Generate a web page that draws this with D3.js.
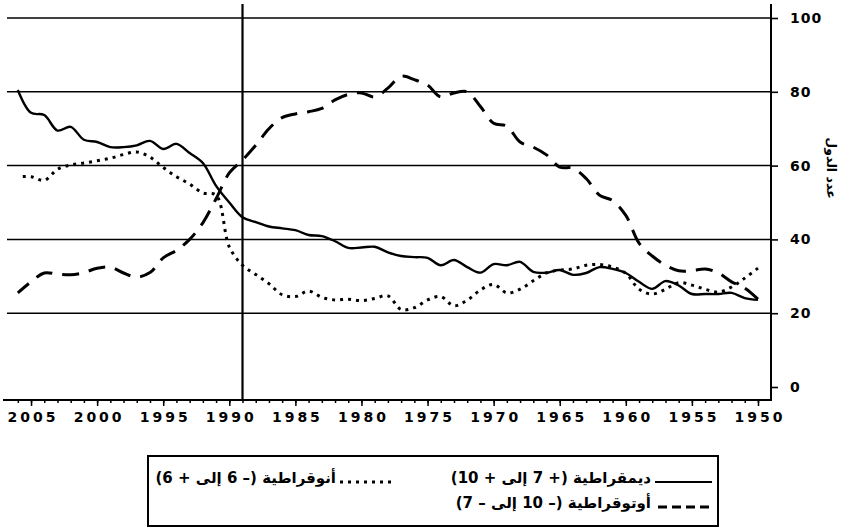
<!DOCTYPE html>
<html lang="ar">

<head>
  <meta charset="UTF-8">
  <meta name="viewport" content="width=device-width, initial-scale=1.0">
  <title>Document</title>
  <script src="https://cdn.jsdelivr.net/npm/d3@7.6.1/dist/d3.min.js"></script>
  <style>
    body { margin: 0; background: #fff; }
    div svg { display: block; }
  </style>
</head>

<body>
  <div id="box"></div>
  <script>
    const width = 850
    const height = 531
    const font = 'DejaVu Sans, sans-serif'

    // years run 1950 .. 2006, values are % of countries
    const years = d3.range(1950, 2007)
    const democracy = [23.6, 24.1, 25.5, 25.2, 25.2, 25.2, 27.5, 28.7, 26.6, 28.5,
      30.9, 32, 32.5, 30.9, 30.4, 31.7, 31, 31.2, 33.9, 33,
      33.3, 31, 32.5, 34.4, 33, 35, 35.2, 35.5, 36.5, 38,
      37.8, 37.7, 39.5, 40.9, 41.2, 42.5, 43, 43.5, 44.7, 46,
      50, 54.5, 60.7, 63.4, 65.9, 64.5, 66.7, 65.5, 65, 65,
      66.4, 67, 70.5, 69.5, 73.7, 74.3, 80.5]
    const anocracy = [32.2, 29.5, 27.1, 25.7, 26.5, 27.6, 28.3, 26.5, 25.2, 26.5,
      30.8, 32.5, 33.2, 33, 32, 31.7, 30.9, 28.8, 26.5, 25.5,
      27.8, 26.3, 23.5, 22, 24.5, 23.6, 21.5, 21, 24.7, 24,
      23.4, 23.8, 23.6, 24.3, 26, 24.5, 25, 28, 30.5, 33,
      38, 52, 52.6, 55, 57, 59.5, 62.3, 63.7, 63, 62,
      61.3, 60.7, 60.2, 59, 56, 57, 57]
    const autocracy = [23.8, 26.8, 28.5, 30.9, 32, 31.5, 31.5, 33, 35.5, 39,
      46.5, 50.5, 52, 56.5, 59.3, 59.6, 62.9, 65, 66.4, 70.7,
      71.5, 76, 80, 79.7, 78.6, 81.8, 83.3, 84.2, 81, 78.6,
      79.7, 79.3, 77.8, 75.5, 74.6, 74, 73, 70, 65.5, 61.5,
      58, 51, 44.5, 40, 37, 35, 31, 29.8, 30.9, 32.5,
      32.2, 31, 30.4, 30.6, 30.9, 28.5, 25.5]
    const yTicks = [0, 20, 40, 60, 80, 100]
    const gridTicks = [20, 40, 60, 80, 100]
    const xTicks = d3.range(1950, 2006, 5)
    const markYear = 1989
    const yTitle = 'عدد الدول'
    const legendLabels = ['ديمقراطية (+ 7 إلى + 10)', 'أنوقراطية (– 6 إلى + 6)', 'أوتوقراطية (– 10 إلى – 7)']

    const series = [
      { name: legendLabels[0], values: democracy, dash: null },
      { name: legendLabels[1], values: anocracy, dash: '3,5' },
      { name: legendLabels[2], values: autocracy, dash: '17,10' }
    ]

    const svg = d3.select('#box').append('svg')
      .attr('width', width)
      .attr('height', height)

    const x = d3.scaleLinear().domain([2007, 1949]).range([4.6, 771.2])
    const y = d3.scaleLinear().domain([0, 100]).range([387, 18])
    const axisX = 771
    const axisTop = 4
    const axisBottom = 400

    /* gridlines */
    svg.append('g').selectAll('line').data(gridTicks).join('line')
      .attr('x1', 7).attr('x2', axisX)
      .attr('y1', d => y(d)).attr('y2', d => y(d))
      .attr('stroke', '#000').attr('stroke-width', 1.5)

    /* vertical marker */
    svg.append('line')
      .attr('x1', x(markYear)).attr('x2', x(markYear))
      .attr('y1', axisTop).attr('y2', axisBottom)
      .attr('stroke', '#000').attr('stroke-width', 2.2)

    /* series */
    const line = d3.line()
      .x((d, i) => x(years[i]))
      .y(d => y(d))
      .curve(d3.curveCatmullRom.alpha(0.5))

    svg.append('g').selectAll('path').data(series).join('path')
      .attr('d', d => line(d.values))
      .attr('fill', 'none')
      .attr('stroke', '#000')
      .attr('stroke-width', d => d.dash ? 3 : 2.4)
      .attr('stroke-dasharray', d => d.dash)

    /* bottom axis: minor yearly ticks, labelled every 5 years */
    const gx = svg.append('g').attr('transform', `translate(0,${axisBottom})`)
    gx.call(d3.axisBottom(x).tickValues(d3.range(1950, 2007)).tickSize(3).tickFormat(''))
    gx.select('.domain').remove()
    const gx2 = svg.append('g').attr('transform', `translate(0,${axisBottom})`)
      .call(d3.axisBottom(x).tickValues(xTicks).tickSize(6).tickPadding(6).tickFormat(d3.format('d')))
    gx2.select('.domain').remove()
    gx2.selectAll('text')
      .attr('font-family', font).attr('font-size', 14).attr('font-weight', 'bold')
      .attr('letter-spacing', 3).attr('dx', 1.5).attr('fill', '#000')
    svg.selectAll('.tick line').attr('stroke-width', 1.5)
    svg.append('line')
      .attr('x1', 3).attr('x2', axisX)
      .attr('y1', axisBottom).attr('y2', axisBottom)
      .attr('stroke', '#000').attr('stroke-width', 2)

    /* right axis */
    const gy = svg.append('g').attr('transform', `translate(${axisX},0)`)
      .call(d3.axisRight(y).tickValues(yTicks).tickSize(7).tickPadding(12))
    gy.select('.domain').remove()
    gy.selectAll('.tick line').attr('stroke-width', 1.6)
    gy.selectAll('text')
      .attr('font-family', font).attr('font-size', 14).attr('font-weight', 'bold')
      .attr('letter-spacing', 1).attr('fill', '#000')
    svg.append('line')
      .attr('x1', axisX).attr('x2', axisX)
      .attr('y1', axisTop).attr('y2', axisBottom + 1)
      .attr('stroke', '#000').attr('stroke-width', 2)

    svg.append('text')
      .attr('transform', `translate(827,168) rotate(90)`)
      .attr('text-anchor', 'middle')
      .attr('font-family', font).attr('font-size', 12.5).attr('font-weight', 'bold')
      .text(yTitle)

    /* legend */
    const lg = svg.append('g')
    lg.append('rect')
      .attr('x', 148).attr('y', 456).attr('width', 570).attr('height', 70)
      .attr('fill', 'none').attr('stroke', '#000').attr('stroke-width', 2)

    const legendPos = [
      { lx1: 655, lx2: 712, tx: 651, ty: 478 },
      { lx1: 340, lx2: 394, tx: 336, ty: 478 },
      { lx1: 658, lx2: 712, tx: 651, ty: 503 }
    ]
    series.forEach((s, i) => {
      const p = legendPos[i]
      lg.append('line')
        .attr('x1', p.lx1).attr('x2', p.lx2).attr('y1', p.ty + 4).attr('y2', p.ty + 4)
        .attr('stroke', '#000').attr('stroke-width', s.dash ? 3 : 2.2)
        .attr('stroke-dasharray', i === 2 ? '9,5' : s.dash)
      lg.append('text')
        .attr('x', p.tx).attr('y', p.ty)
        .attr('dy', '0.35em')
        .attr('direction', 'rtl')
        .attr('text-anchor', 'start')
        .attr('font-family', font).attr('font-size', 15).attr('font-weight', 'bold')
        .text(s.name)
    })
  </script>
</body>

</html>
